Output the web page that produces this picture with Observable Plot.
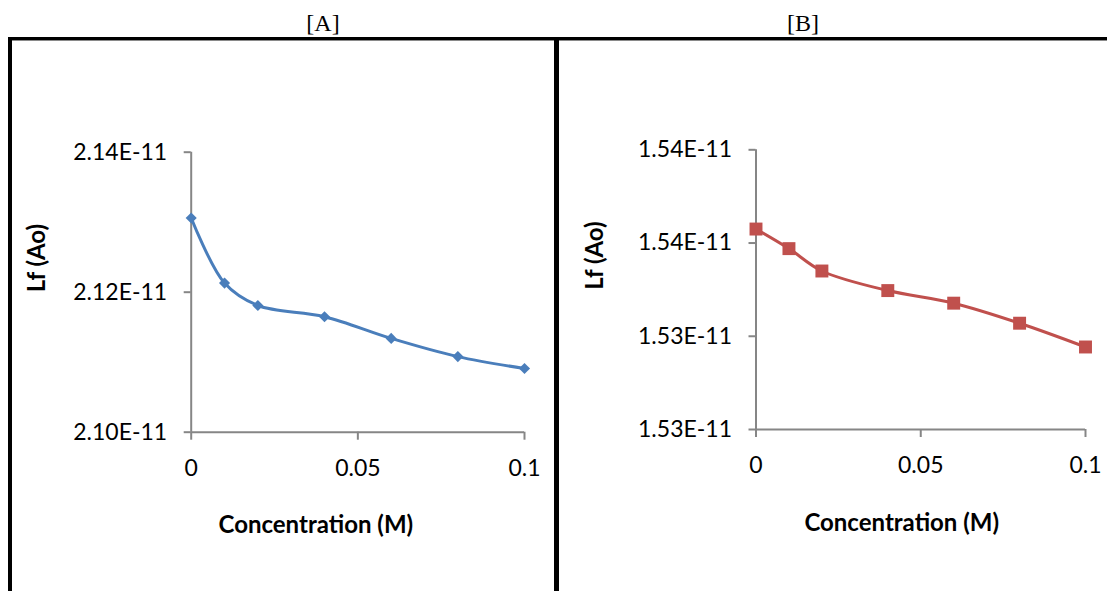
<!DOCTYPE html>
<html>
<head>
<meta charset="utf-8">
<script src="https://cdn.jsdelivr.net/npm/d3@7"></script>
<script src="https://cdn.jsdelivr.net/npm/@observablehq/plot@0.6"></script>
<style>
  html, body { margin: 0; padding: 0; background: #fff; }
  #root { position: relative; width: 1107px; height: 591px; background: #fff; overflow: hidden; }
  .panel-title { position: absolute; top: 8px; font-family: "Liberation Serif", "Times New Roman", serif; font-size: 24px; color: #000; transform: translateX(-50%); white-space: nowrap; line-height: 30px; }
  .bar { position: absolute; background: #000; }
  .bar-gray { position: absolute; background: #8a8a8a; }
  #root svg { position: absolute; top: 0; }
</style>
</head>
<body>
<div id="root">
  <div class="panel-title" style="left:323px">[A]</div>
  <div class="panel-title" style="left:803px">[B]</div>
</div>
<script>
// ---- data ----
const panelTitles = ["[A]", "[B]"];
const concentration = [0, 0.01, 0.02, 0.04, 0.06, 0.08, 0.1];
const lfA = [2.1306e-11, 2.1213e-11, 2.1181e-11, 2.1165e-11, 2.1134e-11, 2.1108e-11, 2.1091e-11];
const lfB = [1.53630e-11, 1.53588e-11, 1.53540e-11, 1.53498e-11, 1.53471e-11, 1.53428e-11, 1.53377e-11];
const xTicks = [0, 0.05, 0.1];
const xTickLabels = ["0", "0.05", "0.1"];
const yTicksA = [2.10e-11, 2.12e-11, 2.14e-11];
const yTickLabelsA = ["2.10E-11", "2.12E-11", "2.14E-11"];
const yTicksB = [1.532e-11, 1.534e-11, 1.536e-11, 1.538e-11];
const yTickLabelsB = ["1.53E-11", "1.53E-11", "1.54E-11", "1.54E-11"];
const xTitle = "Concentration (M)";
const yTitle = "Lf (Ao)";

const root = document.getElementById("root");
const axisGray = "#868686";

function panel(o) {
  const rows = concentration.map((c, i) => ({c, v: o.values[i]}));
  const xMap = new Map(xTicks.map((t, i) => [t, xTickLabels[i]]));
  const yMap = new Map(o.yTicks.map((t, i) => [t, o.yLabels[i]]));
  const svg = Plot.plot({
    width: o.width,
    height: 591,
    marginLeft: o.marginLeft,
    marginRight: o.marginRight,
    marginTop: o.marginTop,
    marginBottom: o.marginBottom,
    style: {fontFamily: "Lato, 'Open Sans', sans-serif", fontSize: "23px", color: "#000", background: "transparent", overflow: "visible"},
    x: {domain: [0, 0.1]},
    y: {domain: [o.yTicks[0], o.yTicks[o.yTicks.length - 1]]},
    marks: [
      Plot.axisX({ticks: xTicks, tickFormat: d => xMap.get(d), tickSize: 8, tickPadding: 19, stroke: axisGray, strokeWidth: 2, fill: "#000", label: null}),
      Plot.axisY({ticks: o.yTicks, tickFormat: d => yMap.get(d), tickSize: 7, tickPadding: 17, stroke: axisGray, strokeWidth: 2, fill: "#000", label: null}),
      Plot.ruleX([0], {stroke: axisGray, strokeWidth: 2}),
      Plot.ruleY([o.yTicks[0]], {stroke: axisGray, strokeWidth: 2}),
      Plot.line(rows, {x: "c", y: "v", stroke: o.color, strokeWidth: 3, curve: "catmull-rom"}),
      Plot.dot(rows, {x: "c", y: "v", fill: o.color, stroke: "none", symbol: o.symbol, r: o.r}),
      Plot.text([xTitle], {text: d => d, frameAnchor: "bottom", dx: o.xTitleDx, dy: 101, fontWeight: "bold", fontSize: 24, fill: "#000"}),
      Plot.text([yTitle], {text: d => d, frameAnchor: "left", rotate: -90, dx: o.yTitleDx, dy: 0, fontWeight: "bold", fontSize: 24, fill: "#000"})
    ]
  });
  svg.style.left = o.left + "px";
  root.appendChild(svg);
}

panel({values: lfA, yTicks: yTicksA, yLabels: yTickLabelsA, color: "#4A7EBB", symbol: "diamond2", r: 5,
  left: 0, width: 554, marginLeft: 190.7, marginRight: 30, marginTop: 151.7, marginBottom: 591 - 431.7,
  xTitleDx: -42, yTitleDx: -154});
panel({values: lfB, yTicks: yTicksB, yLabels: yTickLabelsB, color: "#C0504D", symbol: "square", r: 7.3,
  left: 554, width: 553, marginLeft: 201.5, marginRight: 22, marginTop: 149.3, marginBottom: 591 - 429,
  xTitleDx: -19, yTitleDx: -160.5});

// frame lines of the figure
function bar(cls, l, t, w, h) {
  const d = document.createElement("div");
  d.className = cls;
  Object.assign(d.style, {left: l + "px", top: t + "px", width: w + "px", height: h + "px"});
  root.appendChild(d);
}
bar("bar-gray", 8, 40, 1099, 1);
bar("bar", 8, 37, 1099, 3);
bar("bar", 8, 37, 4, 554);
bar("bar", 554, 37, 5, 554);
</script>
</body>
</html>
